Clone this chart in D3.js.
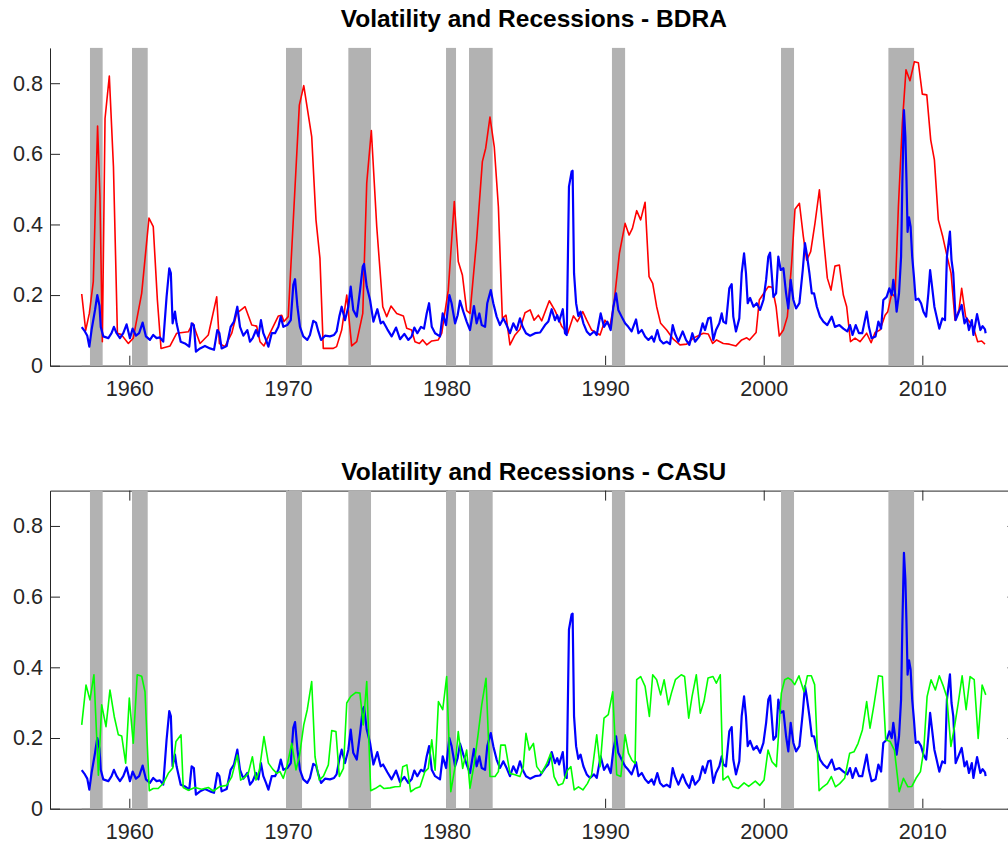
<!DOCTYPE html>
<html>
<head>
<meta charset="utf-8">
<script src="https://cdn.jsdelivr.net/npm/d3@7"></script>
<style>
body { margin: 0; background: #fff; }
svg { display: block; font-family: "Liberation Sans", Arial, Helvetica, sans-serif; }
</style>
</head>
<body>
<svg id="chart" width="1008" height="844"></svg>
<script>
// NBER recessions [start, end] in fractional years
var recessions = [[1957.52,1958.32],[1960.17,1961.16],[1969.88,1970.89],[1973.81,1975.24],
    [1979.97,1980.6],[1981.42,1982.91],[1990.43,1991.26],[2001.09,2001.91],[2007.86,2009.48]];
// span covered by the recession indicator series
var recessionSpan = [1957.0, 2011.2];

var xTicks = [1960, 1970, 1980, 1990, 2000, 2010];
var yTicks = [0, 0.2, 0.4, 0.6, 0.8];

// volatility (blue), shared by both panels
var vol = [[1957.0,0.109],[1957.2,0.097],[1957.35,0.085],[1957.48,0.054],[1957.62,0.101],[1957.84,0.158],[1957.98,0.20],[1958.12,0.17],[1958.2,0.11],[1958.36,0.083],[1958.68,0.078],[1958.88,0.092],[1959.03,0.11],[1959.2,0.092],[1959.41,0.078],[1959.62,0.092],[1959.83,0.117],[1960.04,0.078],[1960.21,0.105],[1960.42,0.085],[1960.62,0.092],[1960.84,0.122],[1961.05,0.083],[1961.3,0.073],[1961.51,0.087],[1961.72,0.078],[1961.93,0.08],[1962.14,0.068],[1962.35,0.195],[1962.52,0.276],[1962.62,0.262],[1962.73,0.12],[1962.88,0.153],[1962.98,0.12],[1963.24,0.068],[1963.51,0.063],[1963.78,0.054],[1963.93,0.12],[1964.07,0.115],[1964.2,0.04],[1964.46,0.049],[1964.77,0.056],[1965.09,0.049],[1965.34,0.045],[1965.55,0.101],[1965.68,0.092],[1965.82,0.049],[1966.14,0.056],[1966.39,0.11],[1966.6,0.125],[1966.81,0.167],[1966.98,0.11],[1967.19,0.085],[1967.44,0.101],[1967.61,0.068],[1967.78,0.078],[1967.99,0.101],[1968.14,0.083],[1968.3,0.129],[1968.45,0.092],[1968.62,0.073],[1968.77,0.054],[1968.98,0.092],[1969.19,0.092],[1969.4,0.11],[1969.55,0.139],[1969.71,0.11],[1969.96,0.115],[1970.18,0.129],[1970.34,0.229],[1970.45,0.245],[1970.6,0.167],[1970.76,0.11],[1970.97,0.083],[1971.22,0.073],[1971.39,0.087],[1971.6,0.127],[1971.77,0.122],[1971.92,0.097],[1972.09,0.073],[1972.34,0.085],[1972.65,0.083],[1972.91,0.087],[1973.07,0.097],[1973.24,0.139],[1973.39,0.167],[1973.6,0.129],[1973.81,0.167],[1973.96,0.224],[1974.12,0.158],[1974.34,0.139],[1974.55,0.214],[1974.72,0.281],[1974.8,0.288],[1974.97,0.224],[1975.18,0.186],[1975.39,0.125],[1975.64,0.16],[1975.85,0.12],[1976.0,0.125],[1976.27,0.103],[1976.54,0.083],[1976.82,0.108],[1977.07,0.075],[1977.34,0.09],[1977.59,0.073],[1977.8,0.083],[1977.97,0.108],[1978.16,0.092],[1978.39,0.11],[1978.58,0.105],[1978.75,0.148],[1978.9,0.177],[1979.07,0.11],[1979.28,0.092],[1979.59,0.083],[1979.76,0.148],[1979.97,0.115],[1980.18,0.20],[1980.32,0.177],[1980.54,0.12],[1980.7,0.143],[1980.85,0.184],[1981.06,0.153],[1981.27,0.125],[1981.48,0.101],[1981.73,0.169],[1981.9,0.12],[1982.07,0.148],[1982.22,0.115],[1982.43,0.11],[1982.57,0.177],[1982.79,0.214],[1982.95,0.177],[1983.16,0.139],[1983.37,0.115],[1983.58,0.134],[1983.79,0.115],[1984.0,0.092],[1984.21,0.12],[1984.42,0.101],[1984.63,0.134],[1984.8,0.11],[1985.01,0.092],[1985.27,0.085],[1985.58,0.092],[1985.9,0.094],[1986.21,0.115],[1986.42,0.125],[1986.63,0.16],[1986.84,0.129],[1986.98,0.143],[1987.1,0.125],[1987.33,0.16],[1987.47,0.092],[1987.58,0.087],[1987.72,0.507],[1987.89,0.55],[1987.95,0.552],[1988.04,0.262],[1988.17,0.177],[1988.31,0.141],[1988.45,0.153],[1988.63,0.12],[1988.84,0.097],[1989.05,0.087],[1989.3,0.097],[1989.47,0.087],[1989.72,0.148],[1989.93,0.11],[1990.14,0.125],[1990.35,0.101],[1990.52,0.167],[1990.69,0.205],[1990.83,0.158],[1991.04,0.139],[1991.26,0.12],[1991.46,0.11],[1991.67,0.097],[1991.95,0.131],[1992.1,0.092],[1992.31,0.101],[1992.52,0.083],[1992.73,0.073],[1992.94,0.083],[1993.08,0.068],[1993.29,0.101],[1993.46,0.073],[1993.67,0.063],[1993.88,0.068],[1994.09,0.061],[1994.26,0.115],[1994.4,0.092],[1994.62,0.068],[1994.89,0.097],[1995.1,0.073],[1995.31,0.059],[1995.5,0.092],[1995.67,0.068],[1995.94,0.083],[1996.15,0.12],[1996.3,0.101],[1996.5,0.134],[1996.65,0.136],[1996.82,0.073],[1996.99,0.101],[1997.2,0.12],[1997.35,0.148],[1997.45,0.125],[1997.62,0.12],[1997.83,0.219],[1997.98,0.231],[1998.08,0.139],[1998.25,0.097],[1998.46,0.134],[1998.61,0.262],[1998.76,0.318],[1998.88,0.262],[1998.99,0.177],[1999.14,0.192],[1999.35,0.167],[1999.56,0.177],[1999.77,0.158],[1999.98,0.186],[2000.15,0.243],[2000.29,0.309],[2000.4,0.32],[2000.5,0.262],[2000.61,0.195],[2000.78,0.205],[2000.92,0.309],[2001.07,0.271],[2001.24,0.276],[2001.41,0.205],[2001.55,0.162],[2001.7,0.243],[2001.87,0.186],[2002.04,0.162],[2002.25,0.177],[2002.46,0.271],[2002.6,0.347],[2002.71,0.318],[2002.88,0.262],[2003.03,0.205],[2003.17,0.205],[2003.35,0.167],[2003.55,0.139],[2003.76,0.125],[2004.01,0.115],[2004.29,0.139],[2004.49,0.11],[2004.77,0.115],[2005.02,0.105],[2005.27,0.097],[2005.44,0.115],[2005.6,0.087],[2005.8,0.115],[2006.0,0.092],[2006.21,0.092],[2006.38,0.129],[2006.49,0.153],[2006.63,0.11],[2006.8,0.078],[2007.05,0.083],[2007.23,0.125],[2007.4,0.105],[2007.54,0.186],[2007.75,0.195],[2007.92,0.219],[2008.07,0.20],[2008.17,0.243],[2008.28,0.205],[2008.38,0.153],[2008.53,0.205],[2008.66,0.309],[2008.74,0.517],[2008.84,0.724],[2008.93,0.649],[2009.0,0.526],[2009.07,0.379],[2009.16,0.42],[2009.26,0.394],[2009.36,0.309],[2009.47,0.252],[2009.58,0.186],[2009.75,0.19],[2009.92,0.177],[2010.07,0.153],[2010.24,0.139],[2010.38,0.205],[2010.49,0.271],[2010.59,0.233],[2010.76,0.167],[2010.9,0.139],[2011.07,0.105],[2011.26,0.134],[2011.43,0.129],[2011.55,0.309],[2011.74,0.38],[2011.84,0.299],[2011.95,0.262],[2012.1,0.129],[2012.27,0.148],[2012.48,0.172],[2012.66,0.12],[2012.8,0.134],[2012.94,0.101],[2013.12,0.129],[2013.22,0.087],[2013.45,0.146],[2013.66,0.101],[2013.8,0.112],[2013.95,0.103],[2013.99,0.092]];

// BDRA (red), top panel
var bdra = [[1957.0,0.203],[1957.25,0.10],[1957.48,0.148],[1957.73,0.238],[1958.0,0.679],[1958.15,0.48],[1958.3,0.068],[1958.47,0.70],[1958.74,0.82],[1959.0,0.564],[1959.25,0.092],[1959.5,0.088],[1959.94,0.063],[1960.25,0.078],[1960.78,0.205],[1961.24,0.418],[1961.51,0.394],[1961.77,0.186],[1962.0,0.049],[1962.57,0.056],[1962.99,0.092],[1963.72,0.096],[1964.0,0.12],[1964.46,0.063],[1964.98,0.087],[1965.51,0.195],[1965.68,0.063],[1966.03,0.054],[1966.46,0.092],[1966.77,0.148],[1967.3,0.167],[1967.72,0.115],[1968.03,0.112],[1968.24,0.068],[1968.49,0.056],[1968.87,0.092],[1969.4,0.141],[1969.61,0.143],[1969.75,0.125],[1970.02,0.139],[1970.72,0.738],[1971.0,0.793],[1971.5,0.649],[1971.77,0.413],[1972.02,0.304],[1972.23,0.049],[1972.86,0.049],[1973.07,0.054],[1973.39,0.101],[1973.71,0.20],[1974.02,0.056],[1974.34,0.068],[1974.72,0.148],[1974.97,0.517],[1975.26,0.666],[1975.6,0.394],[1975.98,0.167],[1976.23,0.139],[1976.5,0.169],[1976.86,0.148],[1977.28,0.141],[1977.49,0.106],[1977.8,0.101],[1978.01,0.068],[1978.29,0.063],[1978.5,0.073],[1978.75,0.059],[1979.07,0.07],[1979.48,0.073],[1979.7,0.092],[1980.11,0.214],[1980.49,0.465],[1980.74,0.295],[1981.0,0.257],[1981.27,0.156],[1981.48,0.148],[1981.9,0.356],[1982.26,0.578],[1982.47,0.616],[1982.74,0.704],[1983.01,0.62],[1983.27,0.45],[1983.52,0.134],[1983.75,0.143],[1984.0,0.059],[1984.32,0.087],[1984.63,0.103],[1984.95,0.15],[1985.27,0.158],[1985.52,0.129],[1985.79,0.143],[1986.0,0.127],[1986.48,0.184],[1986.84,0.156],[1987.26,0.112],[1987.64,0.092],[1988.0,0.141],[1988.25,0.125],[1988.59,0.153],[1988.84,0.129],[1989.15,0.101],[1989.68,0.087],[1989.99,0.129],[1990.31,0.112],[1990.56,0.177],[1990.9,0.318],[1991.26,0.403],[1991.51,0.37],[1991.72,0.389],[1991.99,0.439],[1992.24,0.413],[1992.52,0.463],[1992.77,0.252],[1993.0,0.233],[1993.25,0.167],[1993.5,0.12],[1993.88,0.101],[1994.3,0.075],[1994.72,0.059],[1995.14,0.061],[1995.56,0.078],[1996.19,0.092],[1996.5,0.09],[1996.78,0.063],[1997.03,0.073],[1997.45,0.063],[1997.83,0.061],[1998.25,0.056],[1998.61,0.073],[1998.93,0.079],[1999.1,0.073],[1999.52,0.094],[1999.72,0.186],[2000.29,0.224],[2000.54,0.222],[2000.78,0.167],[2000.98,0.084],[2001.24,0.101],[2001.49,0.139],[2001.76,0.29],[2001.97,0.443],[2002.25,0.46],[2002.5,0.365],[2002.71,0.299],[2002.96,0.323],[2003.23,0.403],[2003.51,0.498],[2003.76,0.365],[2004.01,0.248],[2004.24,0.214],[2004.49,0.282],[2004.77,0.285],[2005.02,0.20],[2005.23,0.167],[2005.47,0.068],[2005.76,0.078],[2006.07,0.068],[2006.49,0.092],[2006.77,0.065],[2007.02,0.094],[2007.33,0.101],[2007.65,0.143],[2007.82,0.153],[2008.07,0.205],[2008.28,0.195],[2008.49,0.45],[2008.74,0.687],[2008.97,0.838],[2009.22,0.807],[2009.5,0.861],[2009.75,0.858],[2010.0,0.769],[2010.28,0.767],[2010.53,0.639],[2010.76,0.583],[2011.01,0.413],[2011.29,0.365],[2011.54,0.314],[2011.81,0.262],[2012.06,0.129],[2012.31,0.158],[2012.48,0.219],[2012.73,0.139],[2012.96,0.125],[2013.21,0.11],[2013.49,0.068],[2013.74,0.07],[2013.95,0.061]];

// CASU (green), bottom panel
var casu = [[1957.0,0.237],[1957.27,0.35],[1957.52,0.308],[1957.77,0.379],[1958.05,0.095],[1958.26,0.294],[1958.53,0.232],[1958.78,0.336],[1959.05,0.261],[1959.31,0.209],[1959.52,0.206],[1959.77,0.129],[1960.0,0.313],[1960.25,0.185],[1960.5,0.379],[1960.78,0.375],[1960.99,0.331],[1961.26,0.051],[1961.51,0.057],[1961.82,0.057],[1962.15,0.072],[1962.46,0.1],[1962.74,0.115],[1962.94,0.19],[1963.26,0.209],[1963.4,0.06],[1963.72,0.052],[1964.14,0.06],[1964.56,0.055],[1964.98,0.06],[1965.3,0.05],[1965.72,0.063],[1966.14,0.066],[1966.46,0.09],[1966.81,0.152],[1967.02,0.081],[1967.3,0.09],[1967.5,0.1],[1967.76,0.147],[1967.99,0.081],[1968.2,0.109],[1968.49,0.204],[1968.77,0.129],[1969.04,0.112],[1969.3,0.1],[1969.5,0.105],[1969.71,0.086],[1969.96,0.124],[1970.24,0.185],[1970.51,0.11],[1970.72,0.147],[1971.0,0.237],[1971.22,0.28],[1971.5,0.36],[1971.71,0.147],[1971.98,0.081],[1972.24,0.092],[1972.55,0.124],[1972.76,0.221],[1973.03,0.218],[1973.24,0.091],[1973.5,0.114],[1973.71,0.299],[1973.96,0.318],[1974.29,0.329],[1974.54,0.327],[1974.75,0.237],[1974.97,0.36],[1975.22,0.051],[1975.5,0.057],[1975.81,0.066],[1976.06,0.057],[1976.44,0.059],[1976.76,0.062],[1977.07,0.063],[1977.24,0.119],[1977.5,0.124],[1977.74,0.048],[1978.02,0.057],[1978.33,0.062],[1978.64,0.105],[1978.85,0.114],[1979.07,0.195],[1979.28,0.109],[1979.49,0.303],[1979.76,0.28],[1980.01,0.374],[1980.27,0.048],[1980.54,0.119],[1980.74,0.218],[1981.02,0.114],[1981.27,0.166],[1981.48,0.058],[1981.75,0.128],[1982.0,0.213],[1982.22,0.294],[1982.49,0.369],[1982.74,0.091],[1983.06,0.091],[1983.27,0.105],[1983.42,0.18],[1983.7,0.18],[1984.0,0.1],[1984.32,0.096],[1984.63,0.091],[1984.84,0.119],[1985.01,0.213],[1985.22,0.166],[1985.48,0.185],[1985.69,0.119],[1986.0,0.1],[1986.32,0.128],[1986.57,0.157],[1986.78,0.091],[1987.05,0.066],[1987.33,0.071],[1987.63,0.109],[1987.84,0.119],[1988.05,0.053],[1988.32,0.062],[1988.6,0.053],[1988.88,0.071],[1989.15,0.096],[1989.47,0.209],[1989.68,0.119],[1989.93,0.256],[1990.2,0.266],[1990.48,0.331],[1990.73,0.096],[1990.99,0.091],[1991.26,0.209],[1991.47,0.157],[1991.68,0.138],[1991.89,0.128],[1991.99,0.365],[1992.24,0.374],[1992.52,0.346],[1992.79,0.261],[1993.0,0.379],[1993.25,0.365],[1993.5,0.322],[1993.72,0.365],[1993.99,0.294],[1994.18,0.327],[1994.43,0.365],[1994.8,0.379],[1995.01,0.374],[1995.27,0.256],[1995.48,0.317],[1995.75,0.379],[1996.0,0.27],[1996.23,0.303],[1996.49,0.37],[1996.8,0.374],[1997.01,0.355],[1997.26,0.379],[1997.43,0.081],[1997.75,0.092],[1998.06,0.063],[1998.38,0.057],[1998.76,0.073],[1999.05,0.063],[1999.47,0.078],[1999.75,0.066],[2000.02,0.081],[2000.27,0.166],[2000.52,0.133],[2000.8,0.119],[2001.11,0.327],[2001.32,0.365],[2001.53,0.37],[2001.74,0.364],[2001.95,0.351],[2002.22,0.376],[2002.54,0.331],[2002.75,0.376],[2003.0,0.376],[2003.21,0.351],[2003.49,0.051],[2003.74,0.062],[2004.01,0.071],[2004.26,0.091],[2004.52,0.062],[2004.79,0.071],[2005.1,0.086],[2005.42,0.157],[2005.69,0.161],[2005.95,0.185],[2006.22,0.223],[2006.49,0.303],[2006.7,0.228],[2006.95,0.294],[2007.23,0.376],[2007.48,0.374],[2007.69,0.195],[2007.97,0.19],[2008.24,0.166],[2008.54,0.048],[2008.81,0.086],[2009.09,0.062],[2009.34,0.063],[2009.6,0.086],[2009.88,0.105],[2010.09,0.166],[2010.3,0.317],[2010.55,0.365],[2010.82,0.336],[2011.07,0.376],[2011.33,0.346],[2011.54,0.317],[2011.8,0.176],[2012.03,0.232],[2012.26,0.298],[2012.51,0.376],[2012.76,0.28],[2013.01,0.374],[2013.27,0.365],[2013.52,0.199],[2013.77,0.35],[2014.0,0.322]];

var svg = d3.select('#chart');
var axisCol = '#262626';

// axes run a little past the right edge of the picture, like the original
var x = d3.scaleLinear().domain([1955, 2016]).range([50, 1017.5]);

var styleAxis = function(sel) {
    sel.selectAll('.domain, .tick line').attr('stroke', axisCol);
    sel.selectAll('.tick text').attr('fill', axisCol).style('font-size', '21.6px');
};

var drawPanel = function(p) {
    var y = d3.scaleLinear().domain([0, 0.9]).range([p.bottom, p.top]);
    var g = svg.append('g');

    // axes first, the bands and lines sit on top of the ticks
    g.append('g')
        .attr('transform', 'translate(0,' + p.bottom + ')')
        .call(d3.axisBottom(x).tickValues(xTicks).tickFormat(d3.format('d'))
            .tickSizeInner(-10).tickSizeOuter(0).tickPadding(15))
        .call(styleAxis);

    g.append('g')
        .attr('transform', 'translate(' + x.range()[0] + ',0)')
        .call(d3.axisLeft(y).tickValues(yTicks)
            .tickFormat(function(d) { return d === 0 ? '0' : d3.format('.1f')(d); })
            .tickSizeInner(-10).tickSizeOuter(0).tickPadding(7))
        .call(styleAxis);

    if (p.box) {
        g.append('g')
            .attr('transform', 'translate(0,' + p.top + ')')
            .call(d3.axisTop(x).tickValues(xTicks).tickFormat('')
                .tickSizeInner(-10).tickSizeOuter(0))
            .call(styleAxis);
        g.append('g')
            .attr('transform', 'translate(' + x.range()[1] + ',0)')
            .call(d3.axisRight(y).tickValues(yTicks).tickFormat('')
                .tickSizeInner(-10).tickSizeOuter(0))
            .call(styleAxis);
    }

    // edge of the recession area along zero
    g.append('line')
        .attr('x1', x(recessionSpan[0])).attr('x2', x(recessionSpan[1]))
        .attr('y1', y(0)).attr('y2', y(0))
        .attr('stroke', '#a8a8a8').attr('stroke-width', 1.2);

    g.selectAll('.rec').data(recessions).enter()
        .append('rect')
        .classed('rec', true)
        .attr('x', function(d) { return x(d[0]); })
        .attr('width', function(d) { return x(d[1]) - x(d[0]); })
        .attr('y', y(0.9))
        .attr('height', y(0) - y(0.9))
        .style('fill', '#b2b2b2');

    var line = d3.line()
        .x(function(d) { return x(d[0]); })
        .y(function(d) { return y(d[1]); });

    p.series.forEach(function(s) {
        g.append('path')
            .datum(s.data)
            .attr('d', line)
            .attr('fill', 'none')
            .attr('stroke', s.col)
            .attr('stroke-width', s.w)
            .attr('stroke-linejoin', 'round');
    });

    svg.append('text')
        .attr('x', (x.range()[0] + x.range()[1]) / 2)
        .attr('y', p.titleY)
        .attr('text-anchor', 'middle')
        .style('font-size', '24.5px')
        .style('font-weight', 'bold')
        .attr('fill', '#000')
        .text(p.title);
};

drawPanel({top: 47.9, bottom: 365.7, titleY: 27.3, box: false,
    title: 'Volatility and Recessions - BDRA',
    series: [{data: bdra, col: '#ff0000', w: 1.6}, {data: vol, col: '#0000ff', w: 2.2}]});

drawPanel({top: 490.6, bottom: 808.7, titleY: 480, box: true,
    title: 'Volatility and Recessions - CASU',
    series: [{data: vol, col: '#0000ff', w: 2.2}, {data: casu, col: '#00ff00', w: 1.6}]});
</script>
</body>
</html>
